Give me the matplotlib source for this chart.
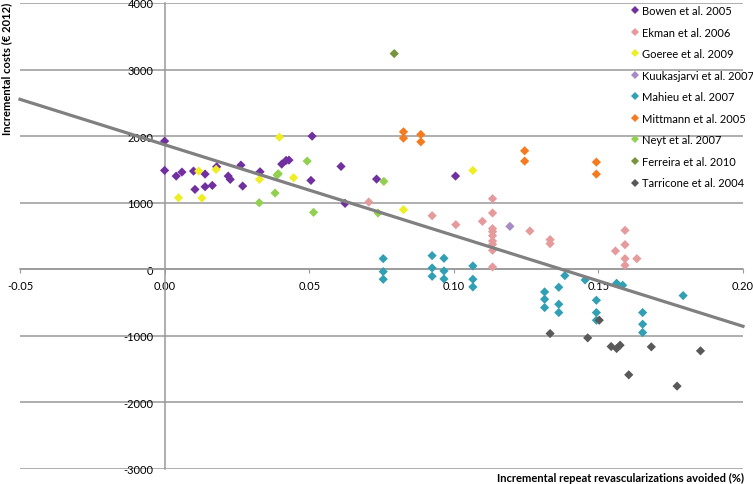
import matplotlib
matplotlib.use("Agg")
import matplotlib.pyplot as plt
from matplotlib.lines import Line2D
import numpy as np

plt.rcParams["font.family"] = ["Lato", "DejaVu Sans"]

# study data: (x = repeat revasc. avoided, y = incremental costs)
bowen_x = [0.0, 0.0, 0.004, 0.006, 0.010, 0.0105, 0.014, 0.014, 0.0165, 0.018, 0.022, 0.0227,
           0.0264, 0.027, 0.033, 0.0405, 0.042, 0.043, 0.0506, 0.051, 0.061, 0.0624, 0.0733, 0.1006]
bowen_y = [1925, 1485, 1400, 1460, 1475, 1200, 1430, 1240, 1260, 1540, 1400, 1350,
           1565, 1250, 1465, 1580, 1635, 1640, 1335, 2000, 1545, 990, 1355, 1400]

ekman_x = [0.0706, 0.0925, 0.1007, 0.1099, 0.1134, 0.1134, 0.1134, 0.1134, 0.1134, 0.1134,
           0.1134, 0.1134, 0.1134, 0.1263, 0.1333, 0.1333, 0.1559, 0.1592, 0.1592, 0.1592,
           0.1592, 0.1633]
ekman_y = [1010, 805, 670, 720, 1060, 845, 610, 565, 505, 425, 375, 285, 35,
           575, 445, 385, 275, 585, 370, 160, 60, 160]

goeree_x = [0.0397, 0.0118, 0.0178, 0.0048, 0.0129, 0.0328, 0.0446, 0.0826, 0.1066]
goeree_y = [1985, 1475, 1500, 1075, 1070, 1350, 1375, 895, 1485]

kuuk_x = [0.1194]
kuuk_y = [645]

mahieu_x = [0.0756, 0.0756, 0.0756, 0.0925, 0.0925, 0.0925, 0.0966, 0.0966, 0.0966,
            0.1066, 0.1066, 0.1066, 0.1314, 0.1314, 0.1314, 0.1363, 0.1363, 0.1363,
            0.1384, 0.1454, 0.1493, 0.1493, 0.1493, 0.1563, 0.1584, 0.1653, 0.1653,
            0.1653, 0.1793]
mahieu_y = [160, -35, -150, 205, 20, -105, 165, -25, -145,
            50, -150, -265, -340, -450, -575, -270, -525, -650,
            -95, -160, -465, -650, -765, -210, -240, -650, -825,
            -950, -395]

mittmann_x = [0.0826, 0.0826, 0.0886, 0.0886, 0.1245, 0.1245, 0.1493, 0.1493]
mittmann_y = [2065, 1970, 2025, 1915, 1780, 1625, 1610, 1430]

neyt_x = [0.0493, 0.0389, 0.0393, 0.0382, 0.0327, 0.0515, 0.0758, 0.0738]
neyt_y = [1625, 1415, 1435, 1145, 1000, 855, 1320, 845]

ferreira_x = [0.0794]
ferreira_y = [3240]

tarricone_x = [0.1333, 0.1463, 0.1503, 0.1544, 0.1563, 0.1575, 0.1683, 0.1605, 0.1772, 0.1853]
tarricone_y = [-965, -1030, -765, -1160, -1190, -1140, -1165, -1585, -1755, -1225]

series = [
    ("Bowen et al. 2005", bowen_x, bowen_y, "#7030A0"),
    ("Ekman et al. 2006", ekman_x, ekman_y, "#E59A9C"),
    ("Goeree et al. 2009", goeree_x, goeree_y, "#EEEE22"),
    ("Kuukasjarvi et al. 2007", kuuk_x, kuuk_y, "#A58CC7"),
    ("Mahieu et al. 2007", mahieu_x, mahieu_y, "#31A0B5"),
    ("Mittmann et al. 2005", mittmann_x, mittmann_y, "#F47B20"),
    ("Neyt et al. 2007", neyt_x, neyt_y, "#92D050"),
    ("Ferreira et al. 2010", ferreira_x, ferreira_y, "#77933C"),
    ("Tarricone et al. 2004", tarricone_x, tarricone_y, "#595959"),
]

x_ticks = [-0.05, 0.0, 0.05, 0.10, 0.15, 0.20]
y_ticks = [-3000, -2000, -1000, 0, 1000, 2000, 3000, 4000]

fig = plt.figure(figsize=(7.53, 4.85), dpi=100)
ax = fig.add_axes([20 / 753, 1 - 470 / 485, 723 / 753, 466 / 485])
ax.set_xlim(-0.05, 0.20)
ax.set_ylim(-3000, 4000)

grid_col = "#999999"
for yv in y_ticks:
    ax.axhline(yv, color=grid_col, lw=1.1, zorder=1)

for side in ["top", "right"]:
    ax.spines[side].set_visible(False)
ax.spines["left"].set_position(("data", 0))
ax.spines["bottom"].set_position(("data", 0))
ax.spines["left"].set_color(grid_col)
ax.spines["bottom"].set_color(grid_col)
ax.spines["left"].set_linewidth(1.1)
ax.spines["bottom"].set_linewidth(1.1)

ax.set_xticks(x_ticks)
ax.set_xticklabels([f"{v:.2f}" for v in x_ticks])
ax.set_yticks(y_ticks)
ax.set_yticklabels([str(v) for v in y_ticks])
ax.tick_params(axis="x", direction="out", length=3, color=grid_col, labelsize=8, pad=5)
ax.tick_params(axis="y", length=0, labelsize=8, pad=8)

for name, xs, ys, col in series:
    ax.scatter(xs, ys, marker="D", s=22, color=col, edgecolors="none", zorder=3)

# linear trend across all studies, extended back to -0.05
all_x = np.concatenate([s[1] for s in series])
all_y = np.concatenate([s[2] for s in series])
slope, icpt = np.polyfit(all_x, all_y, 1)
tx = np.array([-0.05, 0.2])
ax.plot(tx, slope * tx + icpt, color="#808080", lw=2.3, zorder=4, clip_on=False)

handles = [Line2D([], [], marker="D", ls="none", color=c, markersize=4, markeredgewidth=0)
           for _, _, _, c in series]
fig.legend(handles, [s[0] for s in series], loc="upper left",
           bbox_to_anchor=(631 / 753, 1 - 6 / 485), frameon=False, fontsize=8,
           handlelength=0.7, handletextpad=0.3, labelspacing=0.95, borderpad=0,
           borderaxespad=0)

fig.text(7 / 753, 1 - 3 / 485, "Incremental costs (\u20ac 2012)", rotation=90,
         ha="center", va="top", fontsize=8, fontweight="bold")
fig.text(744 / 753, 1 - 478 / 485, "Incremental repeat revascularizations avoided (%)",
         ha="right", va="center", fontsize=8, fontweight="bold")

fig.savefig("out.png", dpi=100)
